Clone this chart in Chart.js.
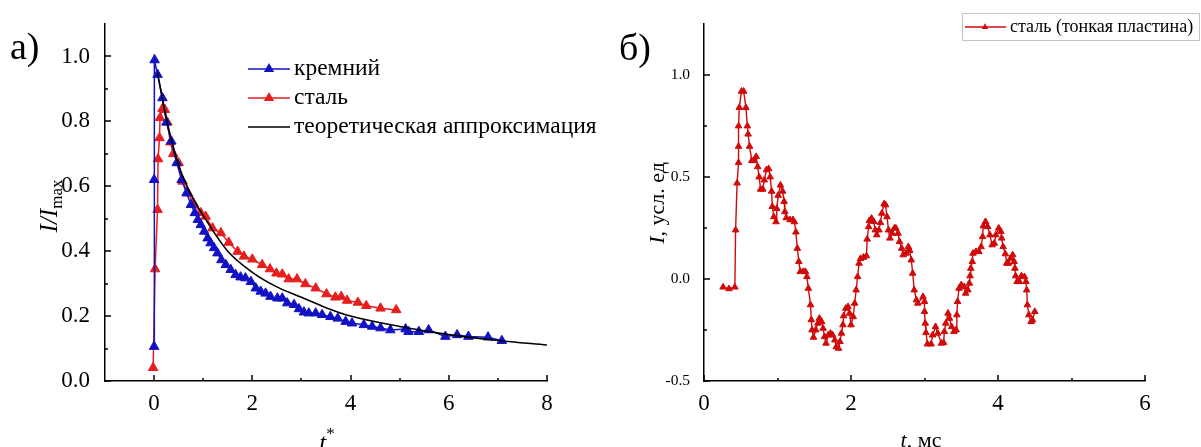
<!DOCTYPE html>
<html>
<head>
<meta charset="utf-8">
<script src="https://cdn.jsdelivr.net/npm/chart.js@4/dist/chart.umd.min.js"></script>
<style>
html, body { margin: 0; padding: 0; background: #fff; }
#wrap { position: relative; width: 1201px; height: 447px; overflow: hidden; }
canvas { position: absolute; top: 0; }
#left { left: 0; }
#right { left: 600px; }
</style>
</head>
<body>
<div id="wrap">
	<canvas id="left" width="600" height="447"></canvas>
	<canvas id="right" width="601" height="447"></canvas>
</div>
<script>
"use strict";

// ---- panel a): normalised intensity vs t* ----
var siliconT = [0, 0, 0.01, 0.07, 0.17, 0.25, 0.35, 0.46, 0.56, 0.66,
	0.75, 0.83, 0.89, 0.95, 1.02, 1.09, 1.15, 1.22, 1.29, 1.37,
	1.46, 1.56, 1.66, 1.76, 1.86, 1.97, 2.07, 2.17, 2.27, 2.37,
	2.51, 2.61, 2.71, 2.85, 2.95, 3.05, 3.15, 3.29, 3.42, 3.59,
	3.74, 3.90, 4.03, 4.27, 4.44, 4.61, 4.81, 5.12, 5.18, 5.39,
	5.59, 5.93, 6.17, 6.40, 6.80, 7.08];
var siliconI = [0.106, 0.62, 0.989, 0.944, 0.872, 0.797, 0.739, 0.672, 0.62, 0.579,
	0.543, 0.518, 0.497, 0.481, 0.461, 0.44, 0.425, 0.41, 0.394, 0.373,
	0.358, 0.343, 0.327, 0.32, 0.317, 0.306, 0.286, 0.276, 0.27, 0.26,
	0.255, 0.255, 0.24, 0.235, 0.222, 0.212, 0.209, 0.209, 0.204, 0.198,
	0.193, 0.183, 0.178, 0.173, 0.168, 0.163, 0.157, 0.16, 0.152, 0.152,
	0.157, 0.137, 0.142, 0.137, 0.135, 0.124];

var steelT = [-0.02, 0.02, 0.07, 0.08, 0.11, 0.12, 0.17, 0.22, 0.27, 0.33,
	0.39, 0.50, 0.58, 0.69, 0.80, 0.95, 1.05, 1.19, 1.36, 1.52,
	1.70, 1.83, 2.00, 2.20, 2.36, 2.49, 2.61, 2.74, 2.91, 3.08,
	3.29, 3.51, 3.69, 3.81, 3.93, 4.15, 4.32, 4.61, 4.93];
var steelI = [0.041, 0.345, 0.528, 0.684, 0.749, 0.811, 0.839, 0.836, 0.797, 0.736,
	0.70, 0.672, 0.615, 0.579, 0.548, 0.518, 0.507, 0.471, 0.456, 0.427,
	0.399, 0.384, 0.375, 0.358, 0.345, 0.332, 0.329, 0.314, 0.314, 0.299,
	0.286, 0.268, 0.258, 0.26, 0.248, 0.242, 0.232, 0.224, 0.219];

var fitT = [0.07, 0.1, 0.2, 0.3, 0.5, 0.75, 1, 1.5, 2, 2.5, 3, 3.5, 4, 5, 6, 7, 8];
var fitI = [0.95, 0.925, 0.845, 0.775, 0.665, 0.575, 0.51, 0.40, 0.335, 0.29, 0.258, 0.226, 0.20, 0.168, 0.143, 0.125, 0.111];

var aTicksX = [0, 2, 4, 6, 8];
var aMinorX = [1, 3, 5, 7];
var aTicksY = [0, 0.2, 0.4, 0.6, 0.8, 1.0];
var aMinorY = [0.1, 0.3, 0.5, 0.7, 0.9];

// ---- panel б): thin steel plate signal vs t, ms ----
var plateT = [0.26, 0.34, 0.42, 0.43, 0.45, 0.47, 0.47, 0.47, 0.48, 0.51,
	0.54, 0.57, 0.59, 0.60, 0.62, 0.65, 0.68, 0.71, 0.73, 0.75,
	0.77, 0.80, 0.82, 0.85, 0.88, 0.90, 0.92, 0.93, 0.95, 0.98,
	0.99, 1.01, 1.04, 1.07, 1.09, 1.10, 1.12, 1.17, 1.21, 1.23,
	1.25, 1.27, 1.29, 1.31, 1.35, 1.38, 1.40, 1.42, 1.45, 1.46,
	1.47, 1.49, 1.52, 1.55, 1.57, 1.60, 1.62, 1.64, 1.66, 1.69,
	1.72, 1.75, 1.78, 1.80, 1.83, 1.85, 1.87, 1.89, 1.90, 1.93,
	1.96, 1.98, 2.00, 2.03, 2.05, 2.07, 2.09, 2.11, 2.13, 2.17,
	2.21, 2.22, 2.24, 2.25, 2.28, 2.31, 2.33, 2.35, 2.38, 2.40,
	2.42, 2.45, 2.47, 2.49, 2.51, 2.53, 2.56, 2.59, 2.61, 2.64,
	2.66, 2.69, 2.71, 2.75, 2.78, 2.80, 2.82, 2.84, 2.86, 2.89,
	2.91, 2.98, 3.00, 3.00, 3.01, 3.02, 3.04, 3.09, 3.11, 3.15,
	3.18, 3.23, 3.26, 3.27, 3.29, 3.32, 3.34, 3.37, 3.40, 3.43,
	3.44, 3.45, 3.47, 3.50, 3.54, 3.56, 3.59, 3.61, 3.62, 3.63,
	3.65, 3.66, 3.70, 3.74, 3.77, 3.79, 3.80, 3.83, 3.86, 3.89,
	3.92, 3.95, 3.97, 4.01, 4.04, 4.05, 4.07, 4.10, 4.12, 4.14,
	4.17, 4.20, 4.22, 4.23, 4.24, 4.26, 4.29, 4.32, 4.36, 4.38,
	4.39, 4.40, 4.42, 4.45, 4.47, 4.50];
var plateI = [-0.04, -0.048, -0.04, 0.24, 0.47, 0.57, 0.65, 0.75, 0.84, 0.92,
	0.92, 0.84, 0.75, 0.71, 0.65, 0.58, 0.58, 0.60, 0.55, 0.50,
	0.44, 0.44, 0.485, 0.535, 0.54, 0.50, 0.43, 0.355, 0.305, 0.28,
	0.345, 0.41, 0.46, 0.43, 0.38, 0.33, 0.30, 0.29, 0.29, 0.28,
	0.23, 0.15, 0.085, 0.036, 0.036, 0.036, 0.011, -0.046, -0.127, -0.20,
	-0.25, -0.286, -0.25, -0.217, -0.193, -0.209, -0.242, -0.283, -0.315, -0.275,
	-0.266, -0.275, -0.299, -0.332, -0.34, -0.307, -0.266, -0.225, -0.181, -0.144,
	-0.136, -0.168, -0.225, -0.185, -0.119, -0.054, 0.011, 0.077, 0.10, 0.106,
	0.113, 0.195, 0.256, 0.286, 0.297, 0.281, 0.24, 0.216, 0.24, 0.276,
	0.322, 0.368, 0.363, 0.305, 0.24, 0.20, 0.224, 0.249, 0.249, 0.224,
	0.183, 0.15, 0.118, 0.126, 0.158, 0.139, 0.093, 0.028, -0.054, -0.103,
	-0.119, -0.087, -0.111, -0.16, -0.217, -0.263, -0.319, -0.319, -0.275, -0.234,
	-0.266, -0.315, -0.312, -0.258, -0.217, -0.168, -0.193, -0.234, -0.258, -0.25,
	-0.176, -0.111, -0.046, -0.029, -0.038, -0.07, -0.054, -0.021, 0.015, 0.052,
	0.085, 0.126, 0.134, 0.134, 0.158, 0.207, 0.26, 0.281, 0.256, 0.216,
	0.167, 0.175, 0.216, 0.249, 0.232, 0.20, 0.158, 0.123, 0.077, 0.077,
	0.101, 0.118, 0.085, 0.052, 0.015, -0.013, -0.013, 0.015, 0.011, -0.013,
	-0.054, -0.127, -0.176, -0.209, -0.201, -0.16];

var bTicksX = [0, 2, 4, 6];
var bMinorX = [1, 3, 5];
var bTicksY = [-0.5, 0, 0.5, 1.0];
var bMinorY = [-0.25, 0.25, 0.75];

var SERIF = '"Liberation Serif", "Times New Roman", serif';
var BLUE = "#1212c4";
var RED = "#e61e1e";
var DARKRED = "#d00a0a";

function zip(xs, ys) {
	return xs.map(function(x, i) { return { x: x, y: ys[i] }; });
}

function triangle(ctx, x, y, r, color) {
	ctx.beginPath();
	ctx.moveTo(x, y - r);
	ctx.lineTo(x + 0.866 * r, y + 0.5 * r);
	ctx.lineTo(x - 0.866 * r, y + 0.5 * r);
	ctx.closePath();
	ctx.fillStyle = color;
	ctx.fill();
}

// draws text made of runs with own font / vertical shift, centred on x
function drawRuns(ctx, runs, x, y) {
	var total = 0;
	runs.forEach(function(r) { ctx.font = r.font; r.w = ctx.measureText(r.text).width; total += r.w; });
	var cx = x - total / 2;
	ctx.textAlign = "left";
	ctx.textBaseline = "alphabetic";
	runs.forEach(function(r) {
		ctx.font = r.font;
		ctx.fillText(r.text, cx, y + (r.dy || 0));
		cx += r.w;
	});
}

// ticks point into the plot like in Origin
function inwardTicks(chart, major, minor, majorY, minorY) {
	var ctx = chart.ctx, a = chart.chartArea;
	var xs = chart.scales.x, ys = chart.scales.y;
	ctx.save();
	ctx.strokeStyle = "#000";
	ctx.lineWidth = 1.5;
	ctx.beginPath();
	major.forEach(function(v) { var p = Math.round(xs.getPixelForValue(v)); ctx.moveTo(p, a.bottom); ctx.lineTo(p, a.bottom - 6); });
	minor.forEach(function(v) { var p = Math.round(xs.getPixelForValue(v)); ctx.moveTo(p, a.bottom); ctx.lineTo(p, a.bottom - 3); });
	majorY.forEach(function(v) { var p = Math.round(ys.getPixelForValue(v)); ctx.moveTo(a.left, p); ctx.lineTo(a.left + 6, p); });
	minorY.forEach(function(v) { var p = Math.round(ys.getPixelForValue(v)); ctx.moveTo(a.left, p); ctx.lineTo(a.left + 3, p); });
	ctx.stroke();
	ctx.restore();
}

function axisScales(o) {
	return {
		x: {
			type: "linear", min: o.xMin, max: o.xMax,
			grid: { display: false },
			border: { color: "#000", width: 1.5 },
			afterBuildTicks: function(s) { s.ticks = o.xTicks.map(function(v) { return { value: v }; }); },
			afterFit: function(s) { s.height = 66; },
			ticks: { color: "#000", padding: 1, font: { family: SERIF, size: 23 },
				callback: function(v) { return String(v); } }
		},
		y: {
			type: "linear", min: o.yMin, max: o.yMax,
			grid: { display: false },
			border: { color: "#000", width: 1.5 },
			afterBuildTicks: function(s) { s.ticks = o.yTicks.map(function(v) { return { value: v }; }); },
			afterFit: function(s) { s.width = o.yWidth; },
			ticks: { color: "#000", padding: o.yPad, font: { family: SERIF, size: o.ySize },
				callback: function(v) { return v.toFixed(1); } }
		}
	};
}

// ---- chart a) ----
var panelA = {
	id: "panelA",
	afterDraw: function(chart) {
		var ctx = chart.ctx;
		inwardTicks(chart, aTicksX, aMinorX, aTicksY, aMinorY);
		ctx.save();
		ctx.fillStyle = "#000";
		ctx.font = "38px " + SERIF;
		ctx.textAlign = "left";
		ctx.fillText("а)", 10, 59);

		// y title I/I_max, rotated
		ctx.save();
		ctx.translate(49, 206);
		ctx.rotate(-Math.PI / 2);
		drawRuns(ctx, [
			{ text: "I/I", font: "italic 25px " + SERIF },
			{ text: "max", font: "17px " + SERIF, dy: 5 }
		], 0, 8);
		ctx.restore();

		// x title t*
		drawRuns(ctx, [
			{ text: "t", font: "italic 25px " + SERIF },
			{ text: "*", font: "17px " + SERIF, dy: -12 }
		], 327, 451);

		// legend
		var rows = [
			{ label: "кремний", color: BLUE, marker: true, y: 69 },
			{ label: "сталь", color: RED, marker: true, y: 98 },
			{ label: "теоретическая аппроксимация", color: "#000", marker: false, y: 127 }
		];
		rows.forEach(function(r) {
			ctx.strokeStyle = r.color;
			ctx.lineWidth = 1.5;
			ctx.beginPath();
			ctx.moveTo(248, r.y);
			ctx.lineTo(290, r.y);
			ctx.stroke();
			if (r.marker) triangle(ctx, 269, r.y, 6, r.color);
			ctx.fillStyle = "#000";
			ctx.font = "23.5px " + SERIF;
			ctx.textBaseline = "middle";
			ctx.fillText(r.label, 294, r.y);
		});
		ctx.restore();
	}
};

new Chart(document.getElementById("left"), {
	type: "scatter",
	data: {
		datasets: [
			{ label: "теоретическая аппроксимация", data: zip(fitT, fitI), showLine: true,
				borderColor: "#000", borderWidth: 1.6, pointRadius: 0, cubicInterpolationMode: "monotone" },
			{ label: "кремний", data: zip(siliconT, siliconI), showLine: true,
				borderColor: BLUE, borderWidth: 1.5, pointStyle: "triangle", pointRadius: 5.5,
				pointBackgroundColor: BLUE, pointBorderColor: BLUE, pointBorderWidth: 1 },
			{ label: "сталь", data: zip(steelT, steelI), showLine: true,
				borderColor: RED, borderWidth: 1.5, pointStyle: "triangle", pointRadius: 5.5,
				pointBackgroundColor: RED, pointBorderColor: RED, pointBorderWidth: 1 }
		]
	},
	options: {
		responsive: false, animation: false, devicePixelRatio: 1,
		layout: { padding: { top: 24, right: 53, left: 0, bottom: 0 } },
		plugins: { legend: { display: false }, tooltip: { enabled: false } },
		scales: axisScales({ xMin: -1, xMax: 8, xTicks: aTicksX, yMin: 0, yMax: 1.1, yTicks: aTicksY,
			yWidth: 105, yPad: 7, ySize: 23 })
	},
	plugins: [panelA]
});

// ---- chart б) ----
var panelB = {
	id: "panelB",
	afterDraw: function(chart) {
		var ctx = chart.ctx;
		inwardTicks(chart, bTicksX, bMinorX, bTicksY, bMinorY);
		ctx.save();
		ctx.fillStyle = "#000";
		ctx.font = "38px " + SERIF;
		ctx.textAlign = "left";
		ctx.fillText("б)", 19, 60);

		ctx.save();
		ctx.translate(57, 203);
		ctx.rotate(-Math.PI / 2);
		drawRuns(ctx, [
			{ text: "I", font: "italic 22px " + SERIF },
			{ text: ", усл. ед", font: "22px " + SERIF }
		], 0, 7);
		ctx.restore();

		drawRuns(ctx, [
			{ text: "t", font: "italic 22px " + SERIF },
			{ text: ", мс", font: "22px " + SERIF }
		], 321, 447);

		// boxed legend in the top right corner
		ctx.strokeStyle = "#c4c4c4";
		ctx.lineWidth = 1;
		ctx.strokeRect(362.5, 13.5, 237, 27);
		ctx.strokeStyle = DARKRED;
		ctx.lineWidth = 1.5;
		ctx.beginPath();
		ctx.moveTo(365, 27);
		ctx.lineTo(406, 27);
		ctx.stroke();
		triangle(ctx, 385, 27, 3.8, DARKRED);
		ctx.fillStyle = "#000";
		ctx.font = "18px " + SERIF;
		ctx.textBaseline = "middle";
		ctx.fillText("сталь (тонкая пластина)", 410, 27);
		ctx.restore();
	}
};

new Chart(document.getElementById("right"), {
	type: "scatter",
	data: {
		datasets: [
			{ label: "сталь (тонкая пластина)", data: zip(plateT, plateI), showLine: true,
				borderColor: DARKRED, borderWidth: 1.4, pointStyle: "triangle", pointRadius: 3.8,
				pointBackgroundColor: DARKRED, pointBorderColor: DARKRED, pointBorderWidth: 1 }
		]
	},
	options: {
		responsive: false, animation: false, devicePixelRatio: 1,
		layout: { padding: { top: 24, right: 56, left: 0, bottom: 0 } },
		plugins: { legend: { display: false }, tooltip: { enabled: false } },
		scales: axisScales({ xMin: 0, xMax: 6, xTicks: bTicksX, yMin: -0.5, yMax: 1.25, yTicks: bTicksY,
			yWidth: 104, yPad: 6, ySize: 15.5 })
	},
	plugins: [panelB]
});
</script>
</body>
</html>
